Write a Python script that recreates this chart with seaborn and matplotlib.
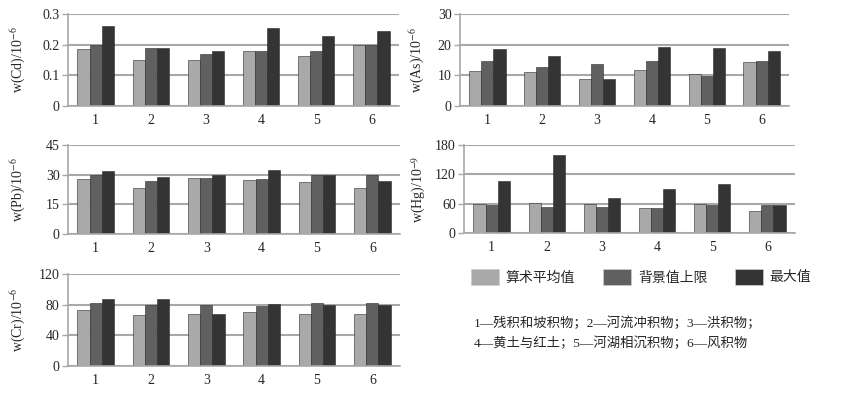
import numpy as np
import pandas as pd
import matplotlib
matplotlib.use("Agg")
import matplotlib.pyplot as plt
from matplotlib.patches import Patch
import seaborn as sns

sites = ["1", "2", "3", "4", "5", "6"]
series = ["算术平均值", "背景值上限", "最大值"]
colors = ["#a9a9a9", "#606060", "#343434"]

cd_mean = [0.185, 0.15, 0.15, 0.18, 0.163, 0.20]
cd_bg = [0.20, 0.19, 0.17, 0.18, 0.18, 0.20]
cd_max = [0.26, 0.19, 0.18, 0.255, 0.227, 0.245]

as_mean = [11.3, 11.0, 8.7, 11.6, 10.5, 14.2]
as_bg = [14.8, 12.7, 13.7, 14.6, 9.8, 14.8]
as_max = [18.6, 16.3, 8.7, 19.2, 18.9, 18.0]

pb_mean = [27.8, 23.4, 28.3, 27.5, 26.5, 23.4]
pb_bg = [30.0, 27.0, 28.3, 27.9, 30.0, 30.0]
pb_max = [32.0, 28.7, 30.0, 32.4, 30.0, 27.0]

hg_mean = [59, 61, 59, 52, 60, 44]
hg_bg = [58, 54, 54, 51, 58, 58]
hg_max = [106, 160, 72, 90, 101, 57]

cr_mean = [73, 66, 68, 70, 68, 68]
cr_bg = [82, 80, 80, 78, 82, 82]
cr_max = [87, 88, 68, 81, 80, 80]

panels = [
    ("Cd", r"w(Cd)/10$^{-6}$", [0, 0.1, 0.2, 0.3], ["0", "0.1", "0.2", "0.3"], (cd_mean, cd_bg, cd_max),
     [0.08, 0.7316, 0.3894, 0.2329], -0.12),
    ("As", r"w(As)/10$^{-6}$", [0, 10, 20, 30], None, (as_mean, as_bg, as_max),
     [0.5412, 0.7316, 0.387, 0.2329], -0.10),
    ("Pb", r"w(Pb)/10$^{-6}$", [0, 15, 30, 45], None, (pb_mean, pb_bg, pb_max),
     [0.08, 0.4076, 0.3906, 0.2253], -0.12),
    ("Hg", r"w(Hg)/10$^{-9}$", [0, 60, 120, 180], None, (hg_mean, hg_bg, hg_max),
     [0.5459, 0.4101, 0.3894, 0.2228], -0.11),
    ("Cr", r"w(Cr)/10$^{-6}$", [0, 40, 80, 120], None, (cr_mean, cr_bg, cr_max),
     [0.08, 0.0734, 0.3906, 0.2329], -0.12),
]

sns.set_theme(style="white")
plt.rcParams["font.family"] = ["Liberation Serif", "Noto Sans CJK SC"]
plt.rcParams["mathtext.fontset"] = "stix"

fig = plt.figure(figsize=(8.5, 3.95), dpi=100)
grid_c = "#a8a8a8"

for name, ylabel, yticks, yticklabels, vals, rect, lab_x in panels:
    ax = fig.add_axes(rect)
    df = pd.DataFrame({
        "site": sites * 3,
        "series": np.repeat(series, 6),
        "value": np.concatenate(vals),
    })
    sns.barplot(data=df, x="site", y="value", hue="series", hue_order=series,
                palette=colors, width=0.66, edgecolor="#2a2a2a", linewidth=0.4,
                ax=ax, legend=False, saturation=1)
    ax.set_xlim(-0.5, 5.5)
    ax.set_ylim(yticks[0], yticks[-1])
    ax.set_yticks(yticks)
    if yticklabels:
        ax.set_yticklabels(yticklabels)
    ax.set_xlabel("")
    ax.set_ylabel(ylabel, fontsize=10)
    ax.yaxis.set_label_coords(lab_x, 0.5)
    ax.yaxis.grid(True, color=grid_c, linewidth=1.5)
    ax.set_axisbelow(True)
    for s in ["top", "right"]:
        ax.spines[s].set_visible(False)
    for s in ["left", "bottom"]:
        ax.spines[s].set_color(grid_c)
        ax.spines[s].set_linewidth(1.2)
    ax.set_xticks(np.arange(-0.5, 6, 1), minor=True)
    ax.tick_params(axis="x", which="major", length=0, labelsize=10, pad=6)
    ax.tick_params(axis="x", which="minor", length=4, color=grid_c, width=1, direction="out")
    ax.tick_params(axis="y", length=4, color=grid_c, width=1, labelsize=10, pad=2, left=True)

handles = [Patch(facecolor=c, edgecolor="#cccccc", linewidth=0.5) for c in colors]
fig.legend(handles, series, loc="center left", bbox_to_anchor=(0.5396, 0.299),
           ncol=3, frameon=False, handlelength=2.0, handleheight=1.45,
           handletextpad=0.5, columnspacing=2.0,
           prop={"family": ["Noto Sans CJK SC"], "size": 10})

note_font = ["Liberation Serif", "Noto Sans CJK SC"]
fig.text(0.557, 0.182, "1—残积和坡积物；2—河流冲积物；3—洪积物；", fontsize=9.6,
         family=note_font, va="center")
fig.text(0.557, 0.131, "4—黄土与红土；5—河湖相沉积物；6—风积物", fontsize=9.6,
         family=note_font, va="center")

fig.savefig("out.png", dpi=100)
